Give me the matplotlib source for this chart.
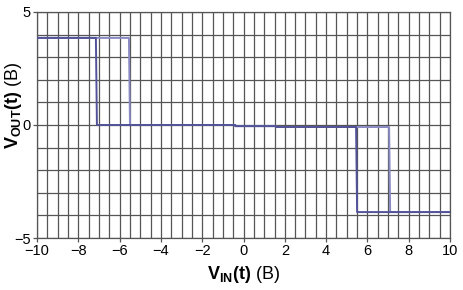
"""Hysteresis transfer curve V_OUT vs V_IN."""

import matplotlib.pyplot as plt
from matplotlib.ticker import MultipleLocator

plt.rcParams["font.family"] = ["Liberation Sans", "DejaVu Sans"]
plt.rcParams["mathtext.fontset"] = "custom"
plt.rcParams["mathtext.rm"] = "Liberation Sans"
plt.rcParams["mathtext.bf"] = "Liberation Sans:bold"

# rising sweep (switches late) and falling sweep (switches early)
up_x = [-10, -5.55, -5.5, -0.4, -0.4, 1.6, 1.6, 7.05, 7.1, 10]
up_y = [3.85, 3.85, 0.0, 0.0, -0.05, -0.05, -0.09, -0.09, -3.85, -3.85]
down_x = [-10, -7.15, -7.1, -0.4, -0.4, 1.6, 1.6, 5.45, 5.5, 10]
down_y = [3.85, 3.85, 0.0, 0.0, -0.05, -0.05, -0.09, -0.09, -3.85, -3.85]

x_ticks = [-10, -8, -6, -4, -2, 0, 2, 4, 6, 8, 10]
y_ticks = [-5, 0, 5]

GRID = "#555555"

fig = plt.figure(figsize=(4.63, 2.90), dpi=100)
ax = fig.add_axes([0.080, 0.179, 0.892, 0.780])

ax.plot(up_x, up_y, color="#8a8ac4", lw=1.4, zorder=3)
ax.plot(down_x, down_y, color="#52529a", lw=1.4, zorder=4)

ax.set_xlim(-10, 10)
ax.set_ylim(-5, 5)
ax.set_xticks(x_ticks)
ax.set_yticks(y_ticks)
ax.xaxis.set_minor_locator(MultipleLocator(0.5))
ax.yaxis.set_minor_locator(MultipleLocator(1))
ax.grid(True, which="both", color=GRID, lw=0.9)
ax.set_axisbelow(True)

ax.tick_params(which="major", direction="out", length=3, width=0.9,
               color=GRID, labelsize=10.5, pad=1.5)
ax.tick_params(which="minor", length=0)
for s in ax.spines.values():
    s.set_color(GRID)
    s.set_linewidth(0.9)

fig.text(0.527, 0.052, r"$\mathbf{V_{IN}(t)}$ (B)", ha="center", va="center",
         fontsize=13)
fig.text(0.030, 0.635, r"$\mathbf{V_{OUT}(t)}$ (B)", ha="center", va="center",
         rotation=90, fontsize=13)

fig.savefig("out.png", dpi=100)
